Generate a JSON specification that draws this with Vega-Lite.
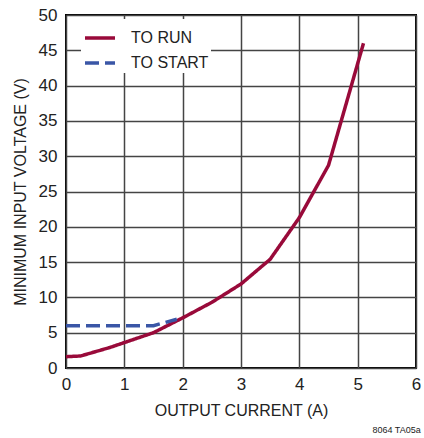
{
  "$schema": "https://vega.github.io/schema/vega-lite/v6.json",
  "autosize": {"type": "none"},
  "width": 350,
  "height": 353,
  "padding": {"left": 66, "top": 15, "right": 8, "bottom": 70},
  "background": "white",
  "config": {
    "font": "Liberation Sans",
    "view": {"stroke": "black", "strokeWidth": 2},
    "axis": {
      "grid": true,
      "gridColor": "#444444",
      "gridWidth": 1.5,
      "domain": false,
      "ticks": false,
      "labelFont": "Liberation Sans",
      "labelFontSize": 17,
      "labelColor": "#222222",
      "titleFont": "Liberation Sans",
      "titleFontSize": 16,
      "titleFontWeight": "normal",
      "titleColor": "#222222"
    }
  },
  "title": {
    "text": "8064 TA05a",
    "orient": "bottom",
    "anchor": "end",
    "font": "Liberation Sans",
    "fontSize": 9,
    "fontWeight": "normal",
    "color": "#222222",
    "offset": 8,
    "dx": 0
  },
  "data": {
    "values": [
      {"series": "TO RUN", "current": 0, "voltage": 1.6},
      {"series": "TO RUN", "current": 0.25, "voltage": 1.7},
      {"series": "TO RUN", "current": 0.5, "voltage": 2.3},
      {"series": "TO RUN", "current": 0.75, "voltage": 2.9},
      {"series": "TO RUN", "current": 1, "voltage": 3.6},
      {"series": "TO RUN", "current": 1.5, "voltage": 5.0},
      {"series": "TO RUN", "current": 2, "voltage": 7.1},
      {"series": "TO RUN", "current": 2.5, "voltage": 9.3},
      {"series": "TO RUN", "current": 3, "voltage": 11.9},
      {"series": "TO RUN", "current": 3.5, "voltage": 15.4},
      {"series": "TO RUN", "current": 4, "voltage": 21.3},
      {"series": "TO RUN", "current": 4.5, "voltage": 28.7},
      {"series": "TO RUN", "current": 5.1, "voltage": 46},
      {"series": "TO START", "current": 0, "voltage": 6.0},
      {"series": "TO START", "current": 1.5, "voltage": 6.0},
      {"series": "TO START", "current": 1.9, "voltage": 6.9}
    ]
  },
  "mark": {"type": "line", "strokeWidth": 3.5, "strokeCap": "butt"},
  "encoding": {
    "x": {
      "field": "current",
      "type": "quantitative",
      "scale": {"domain": [0, 6], "nice": false},
      "axis": {"values": [0, 1, 2, 3, 4, 5, 6], "labelPadding": 8, "title": "OUTPUT CURRENT (A)", "titlePadding": 10, "labelFlush": false}
    },
    "y": {
      "field": "voltage",
      "type": "quantitative",
      "scale": {"domain": [0, 50], "nice": false},
      "axis": {"values": [0, 5, 10, 15, 20, 25, 30, 35, 40, 45, 50], "labelPadding": 9, "title": "MINIMUM INPUT VOLTAGE (V)", "titlePadding": 10, "labelFlush": false}
    },
    "color": {
      "field": "series",
      "type": "nominal",
      "scale": {"domain": ["TO RUN", "TO START"], "range": ["#990a3a", "#3a56a6"]},
      "legend": {
        "title": null,
        "orient": "none",
        "legendX": 15,
        "legendY": 4,
        "fillColor": "white",
        "padding": 2,
        "symbolType": "stroke",
        "symbolSize": 900,
        "symbolStrokeWidth": 3.5,
        "labelFont": "Liberation Sans",
        "labelFontSize": 16,
        "labelColor": "#222222",
        "labelOffset": 14,
        "rowPadding": -2
      }
    },
    "strokeDash": {
      "field": "series",
      "type": "nominal",
      "scale": {"domain": ["TO RUN", "TO START"], "range": [[1, 0], [14, 6]]},
      "legend": {
        "title": null,
        "orient": "none",
        "legendX": 15,
        "legendY": 4,
        "fillColor": "white",
        "padding": 2,
        "symbolType": "stroke",
        "symbolSize": 900,
        "symbolStrokeWidth": 3.5,
        "labelFont": "Liberation Sans",
        "labelFontSize": 16,
        "labelColor": "#222222",
        "labelOffset": 14,
        "rowPadding": -2
      }
    }
  }
}
